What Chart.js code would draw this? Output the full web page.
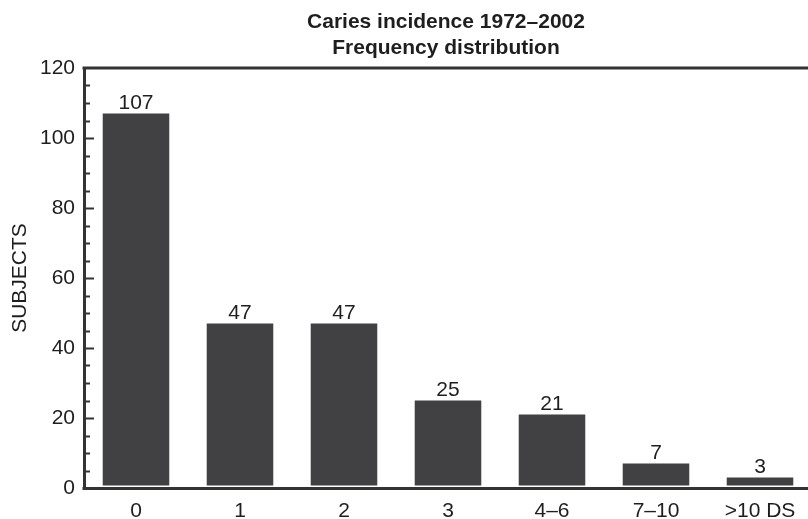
<!DOCTYPE html>
<html>
<head>
<meta charset="utf-8">
<script src="https://cdn.jsdelivr.net/npm/chart.js@4"></script>
<style>
  body { margin: 0; background: #fff; }
  canvas { display: block; }
</style>
</head>
<body>
<canvas id="myChart" width="808" height="519"></canvas>
<script>
const categories = ["0", "1", "2", "3", "4\u20136", "7\u201310", ">10 DS"];
const subjects = [107, 47, 47, 25, 21, 7, 3];
const titleLines = ["Caries incidence 1972\u20132002", "Frequency distribution"];
const yTicks = [0, 20, 40, 60, 80, 100, 120];

const FONT = "'Liberation Sans', Arial, sans-serif";
const INK = "#1e1e1e";
const AXIS = "#333333";

// the plot in the original runs a little past the right edge of the page
const stretchX = {
    id: "stretchX",
    afterLayout(chart) {
        const x = chart.scales.x;
        x.right = x.left + 728;
        x.width = 728;
        x.configure();
    }
};

// title over the plot, values over bars, inward ticks, frame lines
const decor = {
    id: "decor",
    afterDatasetsDraw(chart) {
        const ctx = chart.ctx;
        const area = chart.chartArea;
        const y = chart.scales.y;
        ctx.save();

        ctx.fillStyle = INK;
        ctx.textAlign = "center";
        ctx.textBaseline = "middle";
        ctx.font = "bold 21px " + FONT;
        const cx = (area.left + area.right) / 2;
        ctx.fillText(titleLines[0], cx, 22);
        ctx.fillText(titleLines[1], cx, 48);

        ctx.font = "21px " + FONT;
        ctx.textBaseline = "alphabetic";
        chart.getDatasetMeta(0).data.forEach((bar, i) => {
            ctx.fillText(String(subjects[i]), bar.x, bar.y - 5);
        });

        ctx.strokeStyle = AXIS;
        ctx.lineWidth = 2;
        for (let v = 5; v < 120; v += 5) {
            const py = Math.round(y.getPixelForValue(v)) + 0.5;
            const len = v % 20 === 0 ? 10 : 6;
            ctx.beginPath();
            ctx.moveTo(area.left, py);
            ctx.lineTo(area.left + len, py);
            ctx.stroke();
        }

        // small white gap between bars and the baseline
        ctx.strokeStyle = "#ffffff";
        ctx.lineWidth = 2;
        ctx.beginPath();
        ctx.moveTo(area.left + 2, area.bottom - 1.5);
        ctx.lineTo(chart.width, area.bottom - 1.5);
        ctx.stroke();

        ctx.strokeStyle = AXIS;
        ctx.lineWidth = 3;
        ctx.beginPath();
        ctx.moveTo(area.left - 1.5, area.top);
        ctx.lineTo(chart.width, area.top);
        ctx.stroke();

        ctx.beginPath();
        ctx.moveTo(area.left - 1.5, area.bottom + 0.5);
        ctx.lineTo(chart.width, area.bottom + 0.5);
        ctx.stroke();

        ctx.beginPath();
        ctx.moveTo(area.left + 0.5, area.top);
        ctx.lineTo(area.left + 0.5, area.bottom + 2);
        ctx.stroke();
        ctx.restore();
    }
};

const info = {
    labels: categories,
    datasets: [
        {
            data: subjects,
            backgroundColor: "#414143",
            barPercentage: 0.64,
            categoryPercentage: 1.0
        }
    ]
};

const options = {
    responsive: false,
    animation: false,
    layout: { padding: { top: 68 } },
    scales: {
        x: {
            grid: { display: false, drawTicks: false },
            border: { display: false },
            ticks: {
                color: INK,
                padding: 11,
                font: { family: FONT, size: 21 }
            },
            afterFit: (scale) => { scale.height = 31; }
        },
        y: {
            min: 0,
            max: 120,
            afterBuildTicks: (scale) => {
                scale.ticks = yTicks.map((v) => ({ value: v }));
            },
            grid: { display: false, drawTicks: false },
            border: { display: false },
            ticks: {
                color: INK,
                padding: 9,
                font: { family: FONT, size: 21 }
            },
            title: {
                display: true,
                text: "SUBJECTS",
                color: INK,
                padding: { top: 8, bottom: 0 },
                font: { family: FONT, size: 21, lineHeight: 1.2 }
            },
            afterFit: (scale) => { scale.width = 84; }
        }
    },
    plugins: {
        legend: { display: false },
        tooltip: { enabled: false },
        title: { display: false }
    }
};

const config = {
    type: "bar",
    data: info,
    options,
    plugins: [stretchX, decor]
};

const myChart = new Chart(document.getElementById("myChart"), config);
</script>
</body>
</html>
